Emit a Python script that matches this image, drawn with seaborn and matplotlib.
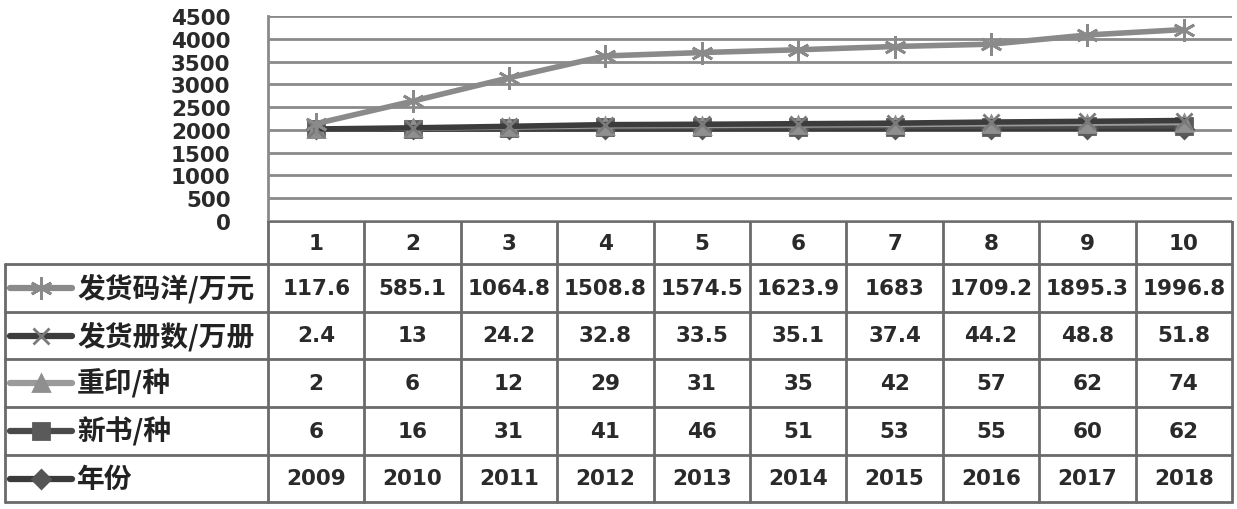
import numpy as np
import pandas as pd
import matplotlib
matplotlib.use("Agg")
import matplotlib.pyplot as plt
import seaborn as sns

sns.set_theme(style="white")
plt.rcParams['font.family'] = ['DejaVu Sans', 'Noto Sans CJK SC']
plt.rcParams['font.weight'] = 'bold'

# ---- data ----
categories = ["1", "2", "3", "4", "5", "6", "7", "8", "9", "10"]
series_names = ["发货码洋/万元", "发货册数/万册", "重印/种", "新书/种", "年份"]
mayang = [117.6, 585.1, 1064.8, 1508.8, 1574.5, 1623.9, 1683, 1709.2, 1895.3, 1996.8]
ceshu = [2.4, 13, 24.2, 32.8, 33.5, 35.1, 37.4, 44.2, 48.8, 51.8]
chongyin = [2, 6, 12, 29, 31, 35, 42, 57, 62, 74]
xinshu = [6, 16, 31, 41, 46, 51, 53, 55, 60, 62]
nianfen = [2009, 2010, 2011, 2012, 2013, 2014, 2015, 2016, 2017, 2018]
yticks = [0, 500, 1000, 1500, 2000, 2500, 3000, 3500, 4000, 4500]

# stacking order: bottom -> top
stack_order = [nianfen, xinshu, chongyin, ceshu, mayang]
stack_names = ["年份", "新书/种", "重印/种", "发货册数/万册", "发货码洋/万元"]
styles = {
    "发货码洋/万元": dict(color="#8a8a8a", marker=(6, 2, 0), mc="#8a8a8a", ms=16, lw=4),
    "发货册数/万册": dict(color="#3c3c3c", marker="x", mc="#7a7a7a", ms=12, lw=4),
    "重印/种": dict(color="#9a9a9a", marker="^", mc="#8f8f8f", ms=11, lw=3.5),
    "新书/种": dict(color="#4a4a4a", marker="s", mc="#5a5a5a", ms=12, lw=3.5),
    "年份": dict(color="#3a3a3a", marker="D", mc="#555555", ms=9, lw=3.5),
}

W, H = 1237, 510
fig = plt.figure(figsize=(W / 100, H / 100), dpi=100)

def fax(x0, y0, x1, y1):
    return fig.add_axes([x0 / W, 1 - y1 / H, (x1 - x0) / W, (y1 - y0) / H])

# ---- chart ----
ax = fax(268, 17, 1232, 222)
xs = np.arange(len(categories)) + 0.5
cum = np.zeros(len(categories))
stacked = {}
for vals, name in zip(stack_order, stack_names):
    cum = cum + np.array(vals, dtype=float)
    stacked[name] = cum.copy()

for name in ["年份", "新书/种", "重印/种", "发货册数/万册", "发货码洋/万元"]:
    st = styles[name]
    sns.lineplot(x=xs, y=stacked[name], ax=ax, color=st["color"], lw=st["lw"],
                 marker=st["marker"], markersize=st["ms"], markeredgecolor=st["mc"],
                 markerfacecolor=st["mc"], markeredgewidth=2, legend=False, zorder=3)

ax.set_xlim(0, 10)
ax.set_ylim(0, 4500)
ax.set_yticks(yticks)
ax.set_yticklabels([str(v) for v in yticks], fontsize=15.5, fontweight='bold', color="#2a2a2a")
ax.tick_params(axis='y', length=0, pad=27)
ax.set_xticks([])
ax.grid(axis='y', color="#8a8a8a", lw=2)
ax.set_axisbelow(True)
for s in ["top", "right", "bottom"]:
    ax.spines[s].set_visible(False)
ax.spines["left"].set_color("#8a8a8a")
ax.spines["left"].set_linewidth(2)

# ---- data table ----
tx = fax(0, 222, W, H)
tx.set_xlim(0, W)
tx.set_ylim(H, 222)
tx.axis('off')

col_edges = [268 + i * (1232 - 268) / 10 for i in range(11)]
row_edges = [222, 265, 313, 360, 408, 456, 503]
lc = "#6a6a6a"
lw = 2
for x in col_edges:
    tx.plot([x, x], [row_edges[0], row_edges[-1]], color=lc, lw=lw)
tx.plot([5, 5], [row_edges[1], row_edges[-1]], color=lc, lw=lw)
tx.plot([268, 1232], [row_edges[0], row_edges[0]], color=lc, lw=lw)
for y in row_edges[1:]:
    tx.plot([5, 1232], [y, y], color=lc, lw=lw)

fs = 15.5
for i, c in enumerate(categories):
    xc = (col_edges[i] + col_edges[i + 1]) / 2
    tx.text(xc, (row_edges[0] + row_edges[1]) / 2, c, ha='center', va='center',
            fontsize=fs, fontweight='bold', color="#2a2a2a")

table_rows = [mayang, ceshu, chongyin, xinshu, nianfen]
for r, (name, vals) in enumerate(zip(series_names, table_rows)):
    yc = (row_edges[r + 1] + row_edges[r + 2]) / 2
    st = styles[name]
    tx.plot([10, 72], [yc, yc], color=st["color"], lw=4.5)
    tx.plot([41], [yc], marker=st["marker"], ms=st["ms"], color=st["mc"],
            markeredgecolor=st["mc"], mew=2, ls='none')
    tx.text(77, yc, name, ha='left', va='center', fontsize=20, fontweight='bold',
            color="#222222", family=['Noto Sans CJK SC', 'DejaVu Sans'])
    for i, v in enumerate(vals):
        xc = (col_edges[i] + col_edges[i + 1]) / 2
        tx.text(xc, yc, f"{v:g}", ha='center', va='center', fontsize=fs,
                fontweight='bold', color="#2a2a2a")

fig.savefig("out.png", dpi=100)
